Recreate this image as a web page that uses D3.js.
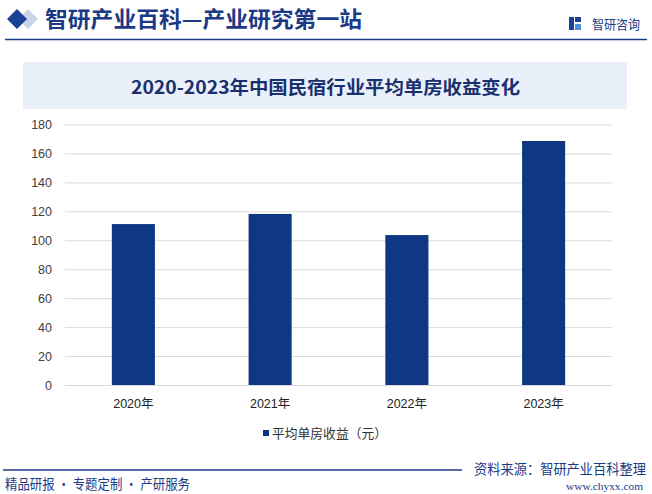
<!DOCTYPE html>
<html><head><meta charset="utf-8">
<script src="https://cdn.jsdelivr.net/npm/d3@7"></script>
<style>html,body{margin:0;padding:0;background:#fff;}svg{display:block;}</style>
</head><body>
<svg id="c" width="652" height="494"></svg>
<script>
const categories = ["2020年","2021年","2022年","2023年"];
const values = [111.2, 118.2, 103.6, 168.6];
const yTicks = [0,20,40,60,80,100,120,140,160,180];
const seriesName = "平均单房收益（元）";
const headerTitle = "智研产业百科—产业研究第一站";
const chartTitle = "2020-2023年中国民宿行业平均单房收益变化";
const footerLeft = "精品研报 · 专题定制 · 产研服务";
const footerSource = "资料来源：智研产业百科整理";
const footerUrl = "www.chyxx.com";
const logoText = "智研咨询";

const navy = "#1b3a86";
const barColor = "#0e3883";
const cjk = "'Noto Sans CJK SC','Noto Sans',sans-serif";
const svg = d3.select("#c");

// header
svg.append("path").attr("d", d3.line()([[28,9],[38,19],[28,29],[18,19]]) + "Z").attr("fill", "#cbd5ea");
svg.append("path").attr("d", d3.line()([[17,9],[27,19],[17,29],[7,19]]) + "Z").attr("fill", "#1b3f94");
svg.append("text").attr("x", 45).attr("y", 27).attr("font-family", cjk).attr("font-weight", 700)
  .attr("font-size", 22).attr("fill", navy).attr("textLength", 317).attr("lengthAdjust","spacingAndGlyphs").text(headerTitle);
svg.append("line").attr("x1", 5).attr("x2", 647).attr("y1", 39.5).attr("y2", 39.5).attr("stroke", navy).attr("stroke-width", 1.5);

// logo
const lg = svg.append("g");
lg.append("rect").attr("x",569).attr("y",17).attr("width",5).attr("height",13).attr("fill","#1b3f94");
lg.append("rect").attr("x",575).attr("y",17).attr("width",6).attr("height",5).attr("fill","#1b3f94");
lg.append("rect").attr("x",575).attr("y",24).attr("width",6).attr("height",6).attr("fill","#4a8fd8");
svg.append("text").attr("x", 592).attr("y", 28.5).attr("font-family", cjk).attr("font-size", 13)
  .attr("fill", navy).attr("textLength", 48).attr("lengthAdjust","spacingAndGlyphs").text(logoText);

// title box
svg.append("rect").attr("x", 23).attr("y", 62).attr("width", 604).attr("height", 47).attr("fill", "#e9f0fa");
svg.append("text").attr("x", 131).attr("y", 93.5).attr("font-family", cjk).attr("font-weight", 700)
  .attr("font-size", 18).attr("fill", "#1a2f6e").attr("textLength", 389).attr("lengthAdjust","spacingAndGlyphs").text(chartTitle);

// scales
const x = d3.scaleBand().domain(categories).range([65, 612]).paddingInner(0.685).paddingOuter(0.3425);
const y = d3.scaleLinear().domain([0, 180]).range([385, 124.5]);

// grid
const yAxis = svg.append("g").attr("transform", "translate(65,0)")
  .call(d3.axisLeft(y).tickValues(yTicks).tickSize(-547).tickPadding(13));
yAxis.select(".domain").remove();
yAxis.selectAll(".tick line").attr("stroke", "#d9d9d9").attr("stroke-width", 1);
yAxis.selectAll(".tick text").attr("font-family", "'Liberation Sans',Arial,sans-serif").attr("font-size", 12.5).attr("fill", "#404040");

// bars
svg.append("g").selectAll("rect").data(values).join("rect")
  .attr("x", (d,i) => x(categories[i])).attr("width", x.bandwidth())
  .attr("y", d => y(d)).attr("height", d => y(0) - y(d)).attr("fill", barColor);

// x axis
const xAxis = svg.append("g").attr("transform", "translate(0,385)")
  .call(d3.axisBottom(x).tickSize(0).tickPadding(14));
xAxis.select(".domain").attr("stroke", "#d9d9d9");
xAxis.selectAll(".tick text").attr("font-family", "'Liberation Sans','Noto Sans CJK SC',sans-serif").attr("font-size", 12.5).attr("fill", "#222");

// legend
svg.append("rect").attr("x", 263).attr("y", 430).attr("width", 6).attr("height", 6).attr("fill", barColor);
svg.append("text").attr("x", 272).attr("y", 438).attr("font-family", cjk).attr("font-size", 13)
  .attr("fill", "#333").attr("textLength", 115).attr("lengthAdjust","spacingAndGlyphs").text(seriesName);

// footer
svg.append("line").attr("x1", 3).attr("x2", 462).attr("y1", 470).attr("y2", 470).attr("stroke", navy).attr("stroke-width", 1.5);
svg.append("text").attr("x", 474).attr("y", 474).attr("font-family", cjk).attr("font-size", 13.5)
  .attr("fill", navy).attr("textLength", 172).attr("lengthAdjust","spacingAndGlyphs").text(footerSource);
svg.append("text").attr("x", 5).attr("y", 489).attr("font-family", cjk).attr("font-size", 13.5)
  .attr("fill", navy).attr("textLength", 185).attr("lengthAdjust","spacingAndGlyphs").text(footerLeft);
svg.append("text").attr("x", 566).attr("y", 490).attr("font-family", "'Liberation Serif','DejaVu Serif',serif").attr("font-size", 11)
  .attr("fill", navy).attr("textLength", 77).attr("lengthAdjust","spacingAndGlyphs").text(footerUrl);
</script>
</body></html>
